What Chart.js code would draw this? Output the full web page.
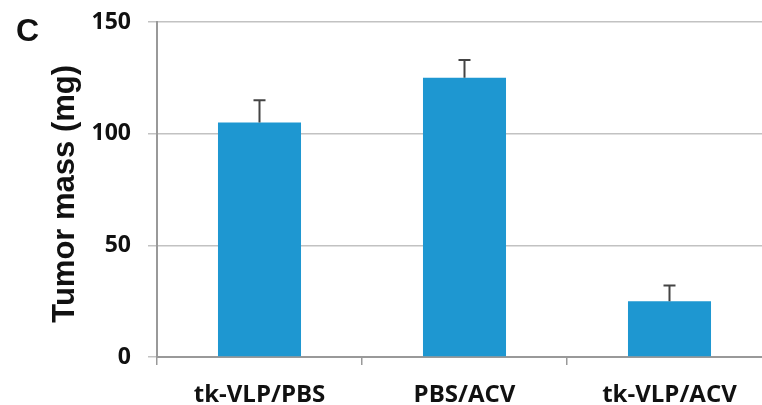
<!DOCTYPE html>
<html><head><meta charset="utf-8">
<script src="https://cdn.jsdelivr.net/npm/chart.js@4/dist/chart.umd.min.js"></script>
<style>
html,body{margin:0;padding:0;background:#fff;overflow:hidden;}
#wrap{position:relative;width:772px;height:405px;}
#panel{position:absolute;left:16px;top:14px;font:bold 32px "Liberation Sans",Arial,sans-serif;color:#111;line-height:1;}
</style></head>
<body>
<div id="wrap"><canvas id="c" width="772" height="405"></canvas><div id="panel">C</div></div>
<script>
const categories = ["tk-VLP/PBS", "PBS/ACV", "tk-VLP/ACV"];
const tumorMass = [105, 125, 25];
const errorUpper = [10, 8, 7];
const yTicks = [0, 50, 100, 150];

const errorBars = {
  id: 'errorBars',
  afterDatasetsDraw(chart) {
    const ctx = chart.ctx;
    const meta = chart.getDatasetMeta(0);
    const ys = chart.scales.y;
    ctx.save();
    ctx.strokeStyle = '#444';
    ctx.lineWidth = 2;
    meta.data.forEach((bar, i) => {
      const x = bar.x;
      const yTop = ys.getPixelForValue(tumorMass[i] + errorUpper[i]);
      const yBase = ys.getPixelForValue(tumorMass[i]);
      ctx.beginPath();
      ctx.moveTo(x, yBase);
      ctx.lineTo(x, yTop);
      ctx.moveTo(x - 6, yTop);
      ctx.lineTo(x + 6, yTop);
      ctx.stroke();
    });
    ctx.restore();
  }
};

new Chart(document.getElementById('c'), {
  type: 'bar',
  data: {
    labels: categories,
    datasets: [{
      data: tumorMass,
      backgroundColor: '#1e97d1',
      borderWidth: 0,
      barPercentage: 0.405,
      categoryPercentage: 1
    }]
  },
  options: {
    responsive: false,
    animation: false,
    layout: { padding: { top: 22, right: 0, left: 0, bottom: 0 } },
    plugins: { legend: { display: false }, tooltip: { enabled: false } },
    scales: {
      x: {
        afterFit(s) { s.height = 48; },
        grid: { drawOnChartArea: false, drawTicks: true, tickLength: 8, color: '#999', lineWidth: 1.5 },
        border: { color: '#999', width: 2 },
        ticks: { color: '#111', padding: 16, font: { family: 'Open Sans', weight: 'bold', size: 24 } }
      },
      y: {
        min: 0, max: 150,
        afterFit(s) { s.width = 157; s.paddingTop = 0; s.paddingBottom = 0; },
        afterBuildTicks(s) { s.ticks = yTicks.map(v => ({ value: v })); },
        grid: { color: '#c2c2c2', lineWidth: 1.5, tickLength: 9, drawTicks: true },
        border: { color: '#999', width: 2 },
        ticks: { color: '#111', padding: 17, font: { family: 'Open Sans', weight: 'bold', size: 23 } },
        title: { display: true, text: 'Tumor mass (mg) ', color: '#111', padding: { top: 47, bottom: 0 }, font: { family: 'Liberation Sans', weight: 'bold', size: 31 } }
      }
    }
  },
  plugins: [errorBars]
});
</script>
</body></html>
